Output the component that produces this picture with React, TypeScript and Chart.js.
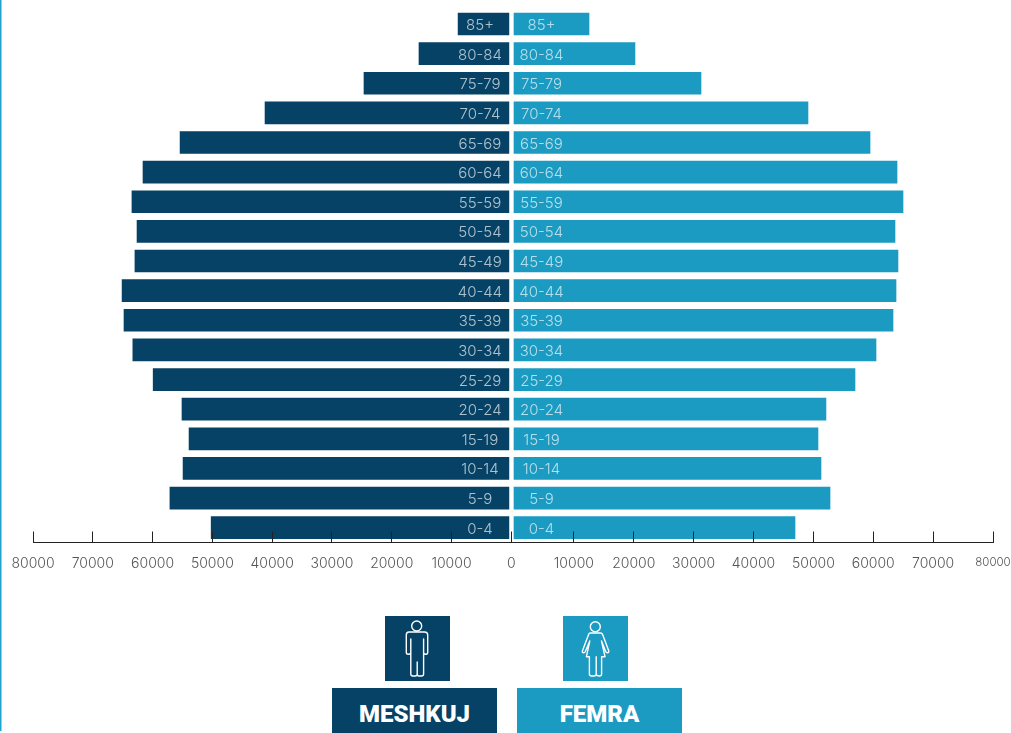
import React, { useEffect, useRef } from "react";
import { Chart, registerables } from "chart.js";

Chart.register(...registerables);

const ageGroups = ["85+", "80-84", "75-79", "70-74", "65-69", "60-64", "55-59", "50-54", "45-49", "40-44", "35-39", "30-34", "25-29", "20-24", "15-19", "10-14", "5-9", "0-4"];
const maleValues = [8900, 15440, 24640, 41190, 55400, 61600, 63450, 62600, 62950, 65100, 64780, 63300, 59900, 55080, 53900, 54900, 57100, 50200];
const femaleValues = [12530, 20200, 31230, 49100, 59460, 63970, 64970, 63630, 64130, 63800, 63300, 60460, 56950, 52100, 50770, 51270, 52780, 46930];
const maleTicks = [-80000, -70000, -60000, -50000, -40000, -30000, -20000, -10000, 0];
const femaleTicks = [10000, 20000, 30000, 40000, 50000, 60000, 70000, 80000];

const MALE = "#054265";
const FEMALE = "#1b9ac2";
const FONT = "Inter, 'Noto Sans', sans-serif";

const ageLabelPlugin = {
  id: "ageLabels",
  afterLayout(chart: any) {
    // Both value axes share the band below the plot, so their labels are not clipped.
    chart.scales.xF.bottom = chart.height;
    chart.scales.xM.bottom = chart.height;
  },
  afterDatasetsDraw(chart: any) {
    const { ctx, scales } = chart;
    ctx.save();
    ctx.font = `300 15px ${FONT}`;
    ctx.textAlign = "center";
    ctx.textBaseline = "middle";
    ctx.fillStyle = "rgba(255,255,255,0.68)";
    ageGroups.forEach((label, i) => {
      const y = scales.y.getPixelForValue(i) + 1.5;
      ctx.fillText(label, 480, y);
      ctx.fillText(label, 541.5, y);
    });
    ctx.restore();
  },
};

function axisOptions(min: number, max: number, values: number[], height: number, weight: number) {
  return {
    type: "linear",
    position: "bottom",
    weight,
    min,
    max,
    afterBuildTicks(scale: any) {
      scale.ticks = values.map((value) => ({ value }));
    },
    afterFit(scale: any) {
      scale.paddingLeft = 0;
      scale.paddingRight = 0;
      scale.height = height;
    },
    grid: { drawOnChartArea: false, drawTicks: true, tickLength: -11, color: "#222222", lineWidth: 1, z: 1 },
    border: { display: true, color: "#222222", width: 1, z: 1 },
    ticks: {
      autoSkip: false,
      maxRotation: 0,
      minRotation: 0,
      padding: 24,
      color: "#555555",
      font: (ctx: any) => ({
        family: FONT,
        weight: "300",
        size: ctx.tick && ctx.tick.value === 80000 ? 11.5 : 14,
      }),
      callback: (v: any) => String(Math.abs(Number(v))),
    },
  };
}

function MaleIcon() {
  return (
    <svg width="65" height="65" viewBox="0 0 65 65" style={{ display: "block" }}>
      <g fill="none" stroke="#ffffff" strokeWidth="1.4" strokeLinejoin="round">
        <circle cx="31.7" cy="10" r="5" />
        <path d="M24 16 H39.5 Q42.7 16 42.7 19 V36.5 Q42.7 38.3 40.8 38.3 Q38.6 38.3 38.6 36.5 V23 V58 Q38.6 60 36.5 60 H34 Q32.2 60 32.2 58 V46 V58 Q32.2 60 30.2 60 H27.8 Q25.8 60 25.8 58 V23 V36.5 Q25.8 38.3 23.5 38.3 Q21.3 38.3 21.3 36.5 V19 Q21.3 16 24 16 Z" />
      </g>
    </svg>
  );
}

function FemaleIcon() {
  return (
    <svg width="65" height="65" viewBox="0 0 65 65" style={{ display: "block" }}>
      <g fill="none" stroke="#ffffff" strokeWidth="1.4" strokeLinejoin="round">
        <circle cx="32.3" cy="10.7" r="5" />
        <path d="M27.5 17 H37.5 Q39 17 39.6 18.5 L45.8 35 Q46 36.5 44.6 36.8 Q43.3 37 42.8 35.8 L38.5 25 L42 40.7 H38.6 V58 Q38.6 60 36.5 60 Q33.2 60 33.2 58 V40.7 V58 Q33.2 60 31 60 H28.6 Q26.4 60 26.4 58 V40.7 H23.4 L26.8 25 L22.2 35.8 Q21.6 37 20.4 36.8 Q19 36.4 19.4 35 L25.6 18.5 Q26 17 27.5 17 Z" />
      </g>
    </svg>
  );
}

const boxStyle = (left: number, top: number, width: number, height: number, background: string): React.CSSProperties => ({
  position: "absolute",
  left,
  top,
  width,
  height,
  background,
});

const nameStyle: React.CSSProperties = {
  color: "#ffffff",
  fontFamily: "Roboto, sans-serif",
  fontWeight: 900,
  fontSize: 24,
  lineHeight: "52px",
  textAlign: "center",
};

export default function App() {
  const ref = useRef<HTMLCanvasElement>(null);

  useEffect(() => {
    const chart = new Chart(ref.current as HTMLCanvasElement, {
      type: "bar",
      data: {
        labels: ageGroups,
        datasets: [
          {
            label: "Meshkuj",
            data: maleValues.map((v) => -v),
            base: -400,
            backgroundColor: MALE,
            xAxisID: "xM",
            yAxisID: "y",
          },
          {
            label: "Femra",
            data: femaleValues,
            base: 0,
            backgroundColor: FEMALE,
            xAxisID: "xF",
            yAxisID: "y",
          },
        ],
      } as any,
      options: {
        indexAxis: "y",
        responsive: false,
        animation: false,
        layout: { padding: { left: 33, right: 18, top: 9.2, bottom: 0 } },
        datasets: { bar: { barThickness: 22, grouped: false } },
        plugins: { legend: { display: false }, tooltip: { enabled: false } },
        scales: {
          y: { type: "category", display: false },
          xF: axisOptions(-80334, 80000, femaleTicks, 0, 0),
          xM: axisOptions(-80000, 80569, maleTicks, 57.5, 1),
        },
      } as any,
      plugins: [ageLabelPlugin],
    });
    return () => chart.destroy();
  }, []);

  return (
    <div style={{ position: "fixed", left: 0, top: 0, width: 1011, height: 733, overflow: "hidden", background: "#ffffff" }}>
      <div style={{ ...boxStyle(0, 0, 2, 731, "#1ea4cd"), background: "linear-gradient(to right, #1ea4cd 50%, #8fd2e6 50%)" }} />
      <canvas ref={ref} width={1011} height={600} style={{ position: "absolute", left: 0, top: 0, display: "block" }} />
      <div style={boxStyle(385, 616, 65, 65, MALE)}><MaleIcon /></div>
      <div style={boxStyle(563, 616, 65, 65, FEMALE)}><FemaleIcon /></div>
      <div style={{ ...boxStyle(332, 688, 165, 45, MALE), ...nameStyle }}>MESHKUJ</div>
      <div style={{ ...boxStyle(517, 688, 165, 45, FEMALE), ...nameStyle }}>FEMRA</div>
    </div>
  );
}
